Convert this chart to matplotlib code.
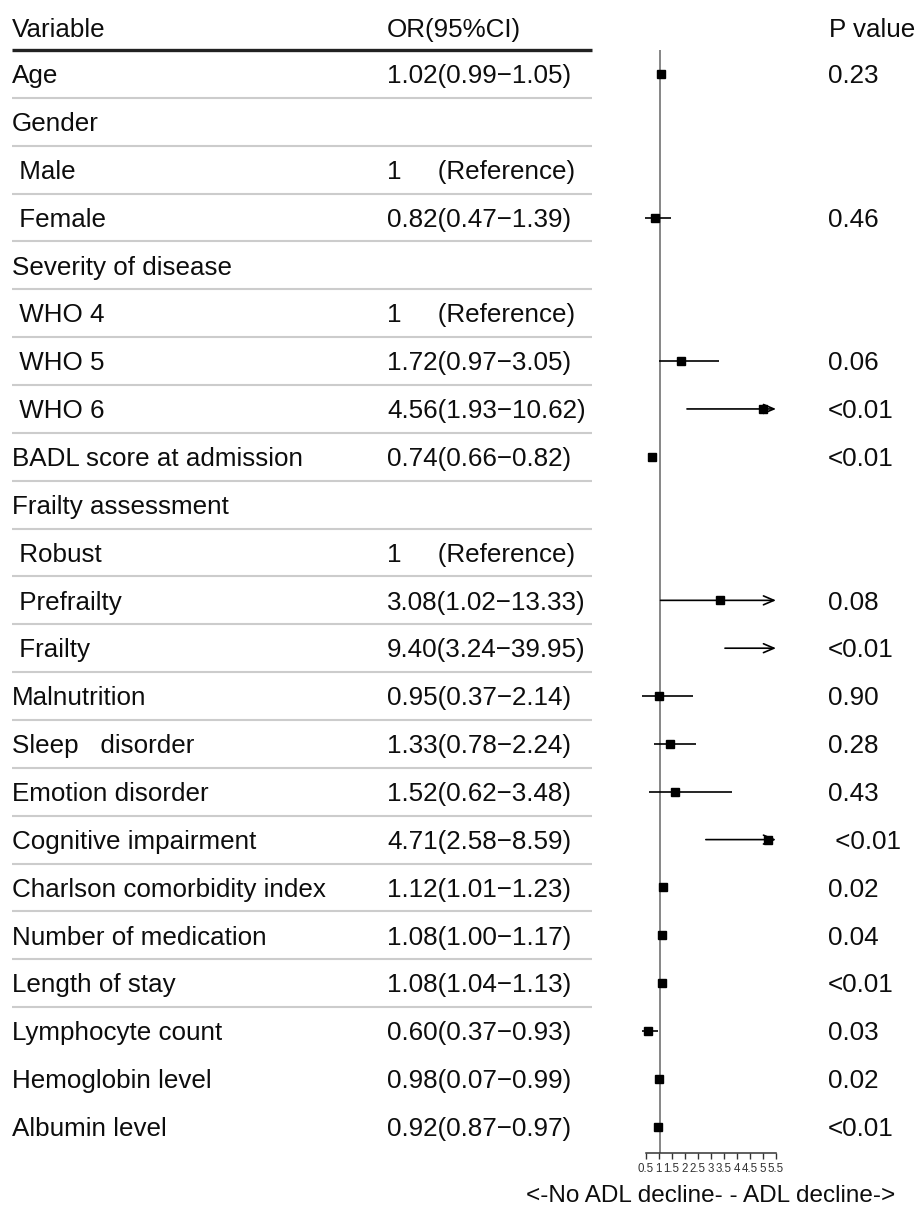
import numpy as np
import matplotlib
matplotlib.use("Agg")
import matplotlib.pyplot as plt
from matplotlib.transforms import blended_transform_factory

plt.rcParams['font.family'] = ['Liberation Sans', 'DejaVu Sans']

# ---------------- data ----------------
variables = ["Age", "Gender", " Male", " Female", "Severity of disease", " WHO 4",
             " WHO 5", " WHO 6", "BADL score at admission", "Frailty assessment",
             " Robust", " Prefrailty", " Frailty", "Malnutrition", "Sleep   disorder",
             "Emotion disorder", "Cognitive impairment", "Charlson comorbidity index",
             "Number of medication", "Length of stay", "Lymphocyte count",
             "Hemoglobin level", "Albumin level"]
or_text = ["1.02(0.99\u22121.05)", "", "1     (Reference)", "0.82(0.47\u22121.39)", "",
           "1     (Reference)", "1.72(0.97\u22123.05)", "4.56(1.93\u221210.62)",
           "0.74(0.66\u22120.82)", "", "1     (Reference)", "3.08(1.02\u221213.33)",
           "9.40(3.24\u221239.95)", "0.95(0.37\u22122.14)", "1.33(0.78\u22122.24)",
           "1.52(0.62\u22123.48)", "4.71(2.58\u22128.59)", "1.12(1.01\u22121.23)",
           "1.08(1.00\u22121.17)", "1.08(1.04\u22121.13)", "0.60(0.37\u22120.93)",
           "0.98(0.07\u22120.99)", "0.92(0.87\u22120.97)"]
p_text = ["0.23", "", "", "0.46", "", "", "0.06", "<0.01", "<0.01", "", "", "0.08",
          "<0.01", "0.90", "0.28", "0.43", " <0.01", "0.02", "0.04", "<0.01", "0.03",
          "0.02", "<0.01"]
nan = np.nan
est = [1.02, nan, nan, 0.82, nan, nan, 1.72, 4.56, 0.74, nan, nan, 3.08, 9.40, 0.95,
       1.33, 1.52, 4.71, 1.12, 1.08, 1.08, 0.60, 0.98, 0.92]
lo = [0.99, nan, nan, 0.47, nan, nan, 0.97, 1.93, 0.66, nan, nan, 1.02, 3.24, 0.37,
      0.78, 0.62, 2.58, 1.01, 1.00, 1.04, 0.37, 0.97, 0.87]
hi = [1.05, nan, nan, 1.39, nan, nan, 3.05, 10.62, 0.82, nan, nan, 13.33, 39.95, 2.14,
      2.24, 3.48, 8.59, 1.23, 1.17, 1.13, 0.93, 0.99, 0.97]
tick_labels = ["0.5", "1", "1.5", "2", "2.5", "3", "3.5", "4", "4.5", "5", "5.5"]
x_clip = 5.0
n_lined = 20  # rows followed by a separator line (Age .. Length of stay)

# ---------------- layout ----------------
W, H = 917, 1206
fig = plt.figure(figsize=(W / 100, H / 100), dpi=100)
ax_left, ax_right = 645.5, 776.0
ax_top, ax_bot = 50.0, 1153.0
ax = fig.add_axes([ax_left / W, 1 - ax_bot / H, (ax_right - ax_left) / W, (ax_bot - ax_top) / H])
row0, step = 74.0, 47.85
ax.set_ylim((ax_bot - row0) / step, (ax_top - row0) / step)
ax.set_xlim(0.5, x_clip)

n = len(variables)
rows = np.arange(n)
blend = blended_transform_factory(fig.transFigure, ax.transData)

fs = 18.7
txt_col = '#0d0d0d'
base_off = 9.2 / step
hdr_base = (36.7 - row0) / step
fig_x = lambda px: px / W

# header
ax.text(fig_x(12), hdr_base, "Variable", transform=blend, fontsize=fs, color=txt_col, va='baseline')
ax.text(fig_x(387), hdr_base, "OR(95%CI)", transform=blend, fontsize=fs, color=txt_col, va='baseline')
ax.text(fig_x(829), hdr_base, "P value", transform=blend, fontsize=fs, color=txt_col, va='baseline')
ax.plot([fig_x(12), fig_x(592)], [-0.5, -0.5], transform=blend, color='#222222', lw=2.4,
        clip_on=False, solid_capstyle='butt')

for i in rows:
    ax.text(fig_x(12), i + base_off, variables[i], transform=blend, fontsize=fs, color=txt_col, va='baseline')
    if or_text[i]:
        ax.text(fig_x(387), i + base_off, or_text[i], transform=blend, fontsize=fs, color=txt_col, va='baseline')
    if p_text[i]:
        ax.text(fig_x(828), i + base_off, p_text[i], transform=blend, fontsize=fs, color=txt_col, va='baseline')
    if i < n_lined:
        ax.plot([fig_x(12), fig_x(592)], [i + 0.5, i + 0.5], transform=blend, color='#cccccc',
                lw=1.5, clip_on=False, solid_capstyle='butt')

# reference line
ax.axvline(1.0, color='#666666', lw=1.1, zorder=1)

# CIs and points
est_a, lo_a, hi_a = np.array(est), np.array(lo), np.array(hi)
for i in rows:
    if np.isnan(est_a[i]):
        continue
    if hi_a[i] > x_clip:
        ax.annotate('', xy=(x_clip, i), xytext=(lo_a[i], i), xycoords='data',
                    arrowprops=dict(arrowstyle='->,head_length=0.75,head_width=0.32', lw=1.2,
                                    color='black', shrinkA=0, shrinkB=0), annotation_clip=False)
    else:
        ax.plot([lo_a[i], hi_a[i]], [i, i], color='black', lw=1.2, clip_on=False, zorder=2,
                solid_capstyle='butt')
    if est_a[i] <= x_clip:
        ax.plot([est_a[i]], [i], marker='s', color='black', markersize=6.2, ls='none',
                clip_on=False, zorder=3)

# axis styling
for s in ['left', 'top', 'right']:
    ax.spines[s].set_visible(False)
ax.spines['bottom'].set_color('#333333')
ax.spines['bottom'].set_linewidth(1.1)
ax.set_yticks([])
ax.set_xticks(np.linspace(0.5, x_clip, len(tick_labels)))
ax.set_xticklabels(tick_labels, fontsize=8.3, color='#333333')
ax.tick_params(axis='x', direction='out', length=4.5, width=1.0, color='#333333', pad=3)
ax.patch.set_alpha(0)

fig.text(0.5 * (ax_left + ax_right) / W, 1 - 1196 / H, "<-No ADL decline- - ADL decline->",
         fontsize=17.5, color=txt_col, ha='center', va='center')

fig.savefig("out.png", dpi=100, facecolor='white')
